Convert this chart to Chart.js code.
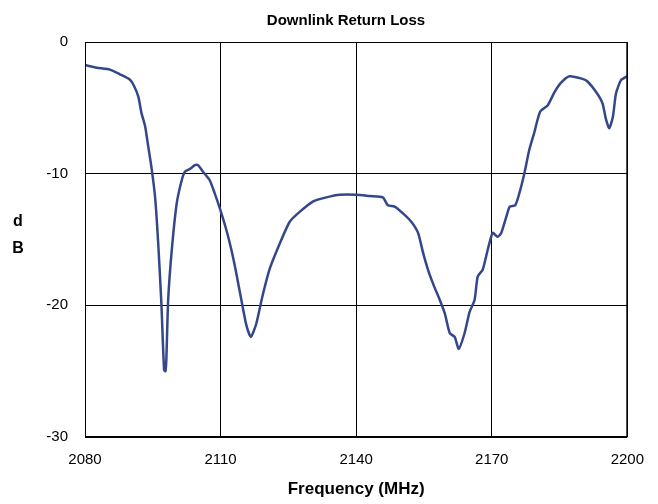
<!DOCTYPE html>
<html>
<head>
<meta charset="utf-8">
<script src="https://cdn.jsdelivr.net/npm/chart.js@4.4.1/dist/chart.umd.min.js"></script>
<style>
  html, body { margin: 0; padding: 0; background: #fff; }
  #wrap { width: 658px; height: 504px; }
</style>
</head>
<body>
<div id="wrap"><canvas id="chart" width="658" height="504"></canvas></div>
<script>
const freqMHz = [2080.0, 2082.6, 2085.5, 2087.7, 2089.9, 2090.8, 2091.8, 2092.5, 2093.3, 2094.0,
  2094.7, 2095.5, 2096.2, 2096.9, 2097.5, 2097.8, 2098.0, 2098.4, 2099.2, 2100.3,
  2101.4, 2102.1, 2103.2, 2104.3, 2105.0, 2106.1, 2107.6, 2108.7, 2109.8, 2111.3,
  2112.4, 2113.5, 2114.6, 2115.7, 2116.7, 2117.9, 2119.2, 2120.9, 2123.1, 2125.3,
  2127.5, 2130.5, 2133.4, 2136.4, 2140.0, 2143.0, 2145.9, 2147.0, 2148.5, 2150.3,
  2152.2, 2153.7, 2154.8, 2155.9, 2157.3, 2158.4, 2159.6, 2160.7, 2161.8, 2162.7,
  2164.0, 2165.1, 2166.2, 2166.9, 2168.0, 2169.1, 2170.2, 2171.3, 2172.1, 2173.2,
  2174.0, 2175.2, 2176.1, 2177.2, 2178.3, 2179.4, 2180.7, 2182.4, 2183.9, 2185.3,
  2187.2, 2190.1, 2191.2, 2193.1, 2194.5, 2195.3, 2196.0, 2196.8, 2197.5, 2198.6,
  2200.0];
const lossDb = [-1.75, -1.95, -2.1, -2.45, -2.85, -3.3, -4.15, -5.4, -6.4, -7.95,
  -9.5, -11.75, -15.3, -19.85, -24.9, -25.0, -24.1, -19.6, -15.8, -12.25,
  -10.5, -9.85, -9.65, -9.35, -9.35, -9.85, -10.5, -11.5, -12.6, -14.3,
  -15.8, -17.6, -19.6, -21.5, -22.4, -21.4, -19.4, -17.2, -15.3, -13.65,
  -12.9, -12.1, -11.8, -11.6, -11.6, -11.7, -11.8, -12.4, -12.5, -13.0,
  -13.65, -14.5, -16.0, -17.3, -18.6, -19.5, -20.6, -22.1, -22.4, -23.3,
  -22.1, -20.5, -19.6, -17.8, -17.3, -15.8, -14.5, -14.8, -14.5, -13.3,
  -12.5, -12.4, -11.5, -10.0, -8.2, -6.9, -5.3, -4.8, -3.8, -3.1,
  -2.6, -2.8, -3.0, -3.8, -4.65, -5.9, -6.55, -5.7, -3.9, -2.9,
  -2.6];
const xTicks = [2080, 2110, 2140, 2170, 2200];
const yTicks = [0, -10, -20, -30];
const chartTitle = 'Downlink Return Loss';
const xTitle = 'Frequency (MHz)';
const yTitleLines = ['d', 'B'];

const FONT = '"Liberation Sans", Arial, sans-serif';

const points = [];
for (let i = 0; i < freqMHz.length; i++) {
  points.push({ x: freqMHz[i], y: lossDb[i] });
}

// title, stacked "d B" label and the box round the plot
const extras = {
  id: 'extras',
  afterDraw(chart) {
    const ctx = chart.ctx;
    const a = chart.chartArea;
    ctx.save();
    ctx.strokeStyle = '#000';
    ctx.lineWidth = 1;
    ctx.strokeRect(a.left + 0.5, a.top + 0.5, a.right - a.left - 1, a.bottom - a.top - 1);
    ctx.fillStyle = '#000';
    ctx.textAlign = 'center';
    ctx.textBaseline = 'alphabetic';
    ctx.font = 'bold 15px ' + FONT;
    ctx.fillText(chartTitle, 346, 25);
    ctx.font = 'bold 16px ' + FONT;
    for (let i = 0; i < yTitleLines.length; i++) {
      ctx.fillText(yTitleLines[i], 18, 226 + i * 27);
    }
    ctx.restore();
  }
};

const ctx = document.getElementById('chart').getContext('2d');
const chart = new Chart(ctx, {
  type: 'line',
  data: {
    datasets: [{
      label: 'Return loss',
      data: points,
      borderColor: '#33478a',
      borderWidth: 2.5,
      pointRadius: 0,
      tension: 0.2,
      fill: false
    }]
  },
  options: {
    responsive: false,
    animation: false,
    layout: { padding: { top: 42, right: 30, left: 0, bottom: 0 } },
    plugins: {
      legend: { display: false },
      tooltip: { enabled: false },
      title: { display: false }
    },
    scales: {
      x: {
        type: 'linear',
        min: 2080,
        max: 2200,
        afterBuildTicks(scale) {
          scale.ticks = xTicks.map(v => ({ value: v }));
        },
        afterFit(scale) { scale.height = 67; },
        grid: { color: '#000', lineWidth: 1, drawTicks: false },
        border: { display: false },
        ticks: {
          color: '#000',
          padding: 14,
          maxRotation: 0,
          callback: v => String(v),
          font: { family: FONT, size: 15 }
        },
        title: {
          display: true,
          text: xTitle,
          color: '#000',
          padding: { top: 7 },
          font: { family: FONT, size: 17, weight: 'bold' }
        }
      },
      y: {
        type: 'linear',
        min: -30,
        max: 0,
        afterBuildTicks(scale) {
          scale.ticks = yTicks.map(v => ({ value: v }));
        },
        afterFit(scale) { scale.width = 85; },
        grid: { color: '#000', lineWidth: 1, drawTicks: false },
        border: { display: false },
        ticks: {
          color: '#000',
          padding: 17,
          callback: v => String(v),
          font: { family: FONT, size: 15 }
        }
      }
    }
  },
  plugins: [extras]
});
</script>
</body>
</html>
